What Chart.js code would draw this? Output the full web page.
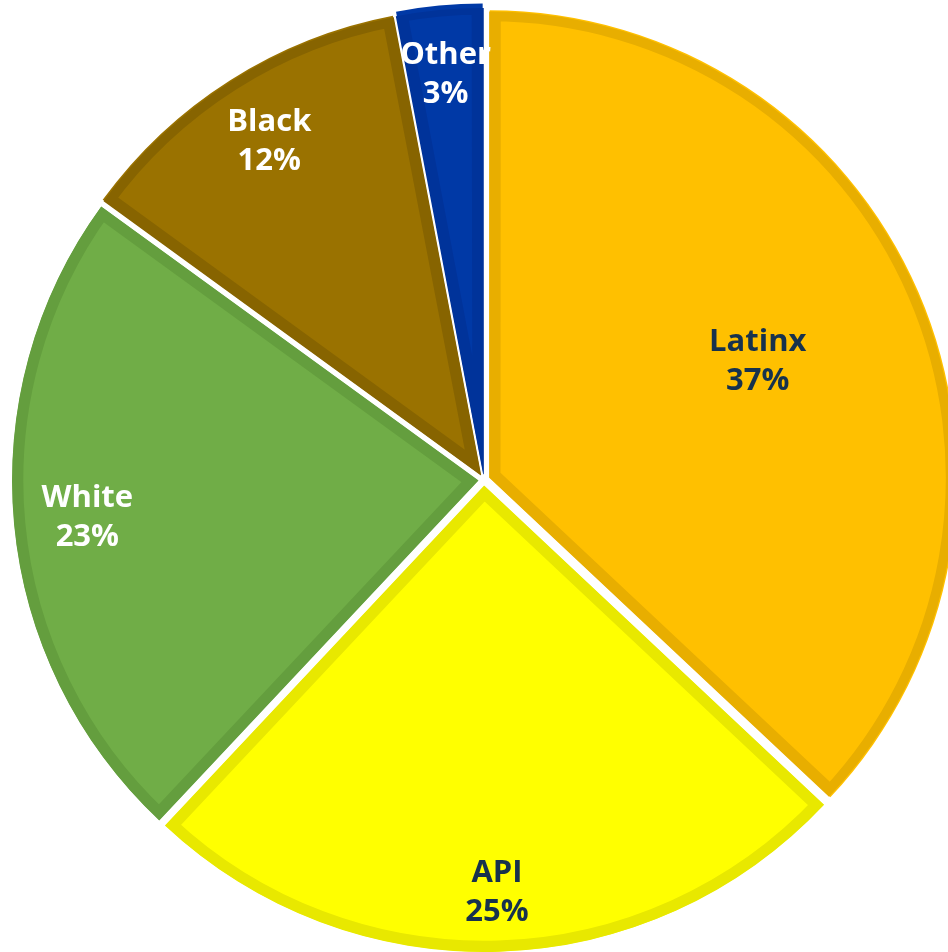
<!DOCTYPE html>
<html>
<head>
<meta charset="utf-8">
<script src="https://cdn.jsdelivr.net/npm/chart.js@4/dist/chart.umd.min.js"></script>
<style>
  html, body { margin: 0; padding: 0; background: #ffffff; overflow: hidden; width: 948px; height: 952px; }
  #wrap { position: absolute; left: 0; top: 0; width: 968px; height: 960px; }
</style>
</head>
<body>
<div id="wrap"><canvas id="c" width="968" height="960"></canvas></div>
<script>
const categories = ['Latinx', 'API', 'White', 'Black', 'Other'];
const shares = [37, 25, 23, 12, 3];
const fillColors = ['#FFC000', '#FFFF00', '#70AD47', '#9A7200', '#0039A6'];
const edgeColors = ['#E8AE00', '#E8E800', '#649E3E', '#876400', '#00339A'];
const labelColors = ['#17324D', '#17324D', '#FFFFFF', '#FFFFFF', '#FFFFFF'];

const labelPlugin = {
  id: 'sliceLabels',
  afterDatasetsDraw(chart, args, opts) {
    const ctx = chart.ctx;
    const meta = chart.getDatasetMeta(0);
    meta.data.forEach((arc, i) => {
      const p = arc.getProps(['x', 'y', 'startAngle', 'endAngle', 'outerRadius'], true);
      const mid = (p.startAngle + p.endAngle) / 2;
      const r = p.outerRadius * opts.radial[i];
      const x = p.x + Math.cos(mid) * r;
      const y = p.y + Math.sin(mid) * r;
      ctx.save();
      ctx.font = 'bold 31px "Open Sans", sans-serif';
      ctx.fillStyle = labelColors[i];
      ctx.textAlign = 'center';
      ctx.textBaseline = 'middle';
      ctx.fillText(categories[i], x, y - 19);
      ctx.fillText(shares[i] + '%', x, y + 20);
      ctx.restore();
    });
  }
};

new Chart(document.getElementById('c'), {
  type: 'pie',
  data: {
    labels: categories,
    datasets: [{
      data: shares,
      backgroundColor: fillColors,
      borderColor: edgeColors,
      borderWidth: 11,
      borderAlign: 'inner',
      offset: 24,
      hoverOffset: 24
    }]
  },
  options: {
    responsive: false,
    animation: false,
    radius: 466,
    layout: { padding: 0 },
    events: [],
    plugins: {
      legend: { display: false },
      tooltip: { enabled: false },
      sliceLabels: { radial: [0.64, 0.885, 0.855, 0.86, 0.875] }
    }
  },
  plugins: [labelPlugin]
});
</script>
</body>
</html>
